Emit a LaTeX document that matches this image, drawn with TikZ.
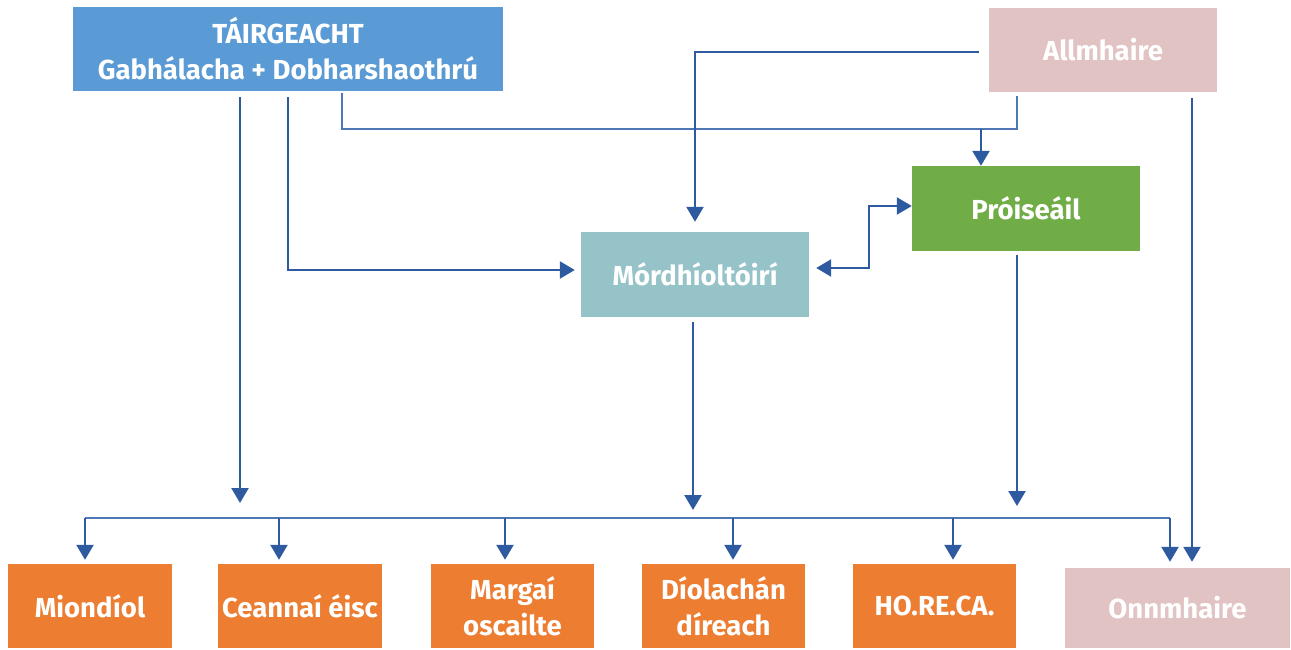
\documentclass[tikz,border=0pt]{standalone}
\usepackage{fontspec}
\setmainfont{Fira Sans}
\usetikzlibrary{arrows.meta,calc}
\definecolor{cblue}{HTML}{5B9BD5}
\definecolor{cpink}{HTML}{E1C3C4}
\definecolor{cgreen}{HTML}{70AD47}
\definecolor{cteal}{HTML}{95C3C8}
\definecolor{corange}{HTML}{ED7D31}
\definecolor{cline}{HTML}{2E5AA0}
\definecolor{clight}{HTML}{4F77B5}
\tikzset{
  box/.style={draw=none, text=white, align=center, inner sep=0pt,
    font=\fontsize{27.5}{36}\selectfont\bfseries},
  arr/.style={draw=cline, line width=2.4pt, -{Triangle[width=17pt,length=15pt]}},
  arrboth/.style={draw=cline, line width=2.4pt, {Triangle[width=17pt,length=15pt]}-{Triangle[width=17pt,length=15pt]}},
  thin/.style={draw=clight, line width=1.4pt},
  bus/.style={draw=clight, line width=1.8pt},
}
\begin{document}
\begin{tikzpicture}[x=1pt,y=-1pt]
\useasboundingbox (0,0) rectangle (1291,650);
\node[box, fill=cblue, minimum width=430pt, minimum height=84pt] (tair) at (288,49) {TÁIRGEACHT\\Gabhálacha + Dobharshaothrú};
\node[box, fill=cpink, minimum width=228pt, minimum height=84pt] (allm) at (1103,50) {Allmhaire};
\node[box, fill=cgreen, minimum width=228pt, minimum height=85pt] (proi) at (1026,208.5) {Próiseáil};
\node[box, fill=cteal, minimum width=228pt, minimum height=85pt] (mord) at (695,274.5) {Mórdhíoltóirí};
\node[box, fill=corange, minimum width=164pt, minimum height=84pt] (mion) at (90,606) {Miondíol};
\node[box, fill=corange, minimum width=164pt, minimum height=84pt] (cean) at (300,606) {Ceannaí éisc};
\node[box, fill=corange, minimum width=163pt, minimum height=84pt] (marg) at (512.5,606) {Margaí\\oscailte};
\node[box, fill=corange, minimum width=163pt, minimum height=84pt] (diol) at (723.5,606) {Díolachán\\díreach};
\node[box, fill=corange, minimum width=163pt, minimum height=84pt] (hore) at (934.5,606) {HO.RE.CA.};
\node[box, fill=cpink, minimum width=225pt, minimum height=80pt] (onnm) at (1177.5,608) {Onnmhaire};

\coordinate (e1) at (240,503);
\coordinate (e2) at (693,510);
\coordinate (e3) at (1017,506);
\coordinate (j1) at (981,129);
\coordinate (b0) at (85,518);
\coordinate (b1) at (1170,518);

% from production
\draw[arr] ([xshift=-48pt,yshift=-6pt]tair.south) -- (e1);
\draw[arr] ([yshift=-6pt]tair.south) |- ([xshift=-6pt,yshift=4.5pt]mord.west);
\draw[thin] ([xshift=54pt,yshift=-2pt]tair.south) |- (j1) -| ([xshift=-86pt,yshift=-4pt]allm.south);
\draw[arr] (j1) -- ([xshift=-45pt]proi.north);
% from imports
\draw[arr] ([xshift=-10pt,yshift=-2pt]allm.west) -| ([yshift=10pt]mord.north);
\draw[arr] ([xshift=89pt,yshift=-6pt]allm.south) -- ([xshift=14.5pt,yshift=6pt]onnm.north);
% wholesale <-> processing
\draw[arrboth] ([xshift=7pt,yshift=6.5pt]mord.east) -| ([xshift=-43pt,yshift=2.5pt]proi.west) -- ([yshift=2.5pt]proi.west);
% down to bus
\draw[arr] ([xshift=-2pt,yshift=-5pt]mord.south) -- (e2);
\draw[arr] ([xshift=-9pt,yshift=-4pt]proi.south) -- (e3);
% bus
\draw[bus] (b0) -- (b1);
\draw[arr] (b0) -- ([xshift=-5pt,yshift=4pt]mion.north);
\draw[arr] (279,518) -- ([xshift=-21pt,yshift=4pt]cean.north);
\draw[arr] (505,518) -- ([xshift=-7.5pt,yshift=4pt]marg.north);
\draw[arr] (733,518) -- ([xshift=9.5pt,yshift=4pt]diol.north);
\draw[arr] (953,518) -- ([xshift=18.5pt,yshift=4pt]hore.north);
\draw[arr] (b1) -- ([xshift=-7.5pt,yshift=6pt]onnm.north);
\end{tikzpicture}
\end{document}
